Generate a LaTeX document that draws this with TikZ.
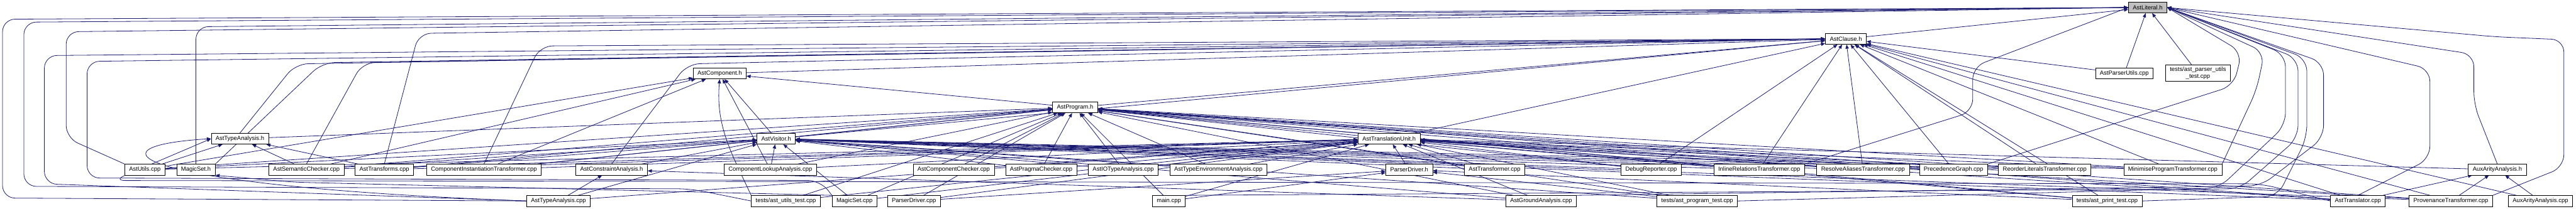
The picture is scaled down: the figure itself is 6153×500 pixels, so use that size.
\documentclass[tikz,border=0pt]{standalone}
\usepackage{fontspec}
\setmainfont{Liberation Sans}
\usetikzlibrary{arrows.meta,backgrounds}
\definecolor{incblue}{RGB}{25,25,112}
\newcommand\incfont{\fontsize{14.2pt}{17pt}\selectfont}
\tikzset{
  incbox/.style={draw, line width=1pt, fill=white, font=\incfont, inner xsep=10.5pt,
    inner ysep=2pt, minimum height=26pt, align=center},
  incroot/.style={incbox, fill=black!25},
  incedge/.style={draw=incblue, line width=1.2pt, -{Triangle[length=10pt,width=8pt]}},
  incroute/.style={incedge, rounded corners=30pt},
}

\begin{document}
\begin{tikzpicture}[x=1pt,y=-1pt]
  \useasboundingbox (0,0) rectangle (6153,500);
  % top headers
  \node[incroot] (lit) at (5130,18) {AstLiteral.h};
  \node[incbox] (clause) at (4409,93) {AstClause.h};
  \node[incbox] (comp) at (1719,176) {AstComponent.h};
  \node[incbox] (parseru) at (5074,176) {AstParserUtils.cpp};
  \node[incbox, minimum height=40pt] (tpu) at (5250,175) {tests/ast\_parser\_utils\\\_test.cpp};
  \node[incbox] (prog) at (2568,257) {AstProgram.h};
  \node[incbox] (tah) at (573,332) {AstTypeAnalysis.h};
  \node[incbox] (visit) at (1854,332) {AstVisitor.h};
  \node[incbox] (tu) at (3318,332) {AstTranslationUnit.h};
  % row of includers
  \node[incbox] (utils) at (346,406) {AstUtils.cpp};
  \node[incbox] (msh) at (468,406) {MagicSet.h};
  \node[incbox] (sem) at (732,406) {AstSemanticChecker.cpp};
  \node[incbox] (transf) at (918,406) {AstTransforms.cpp};
  \node[incbox] (cit) at (1156,406) {ComponentInstantiationTransformer.cpp};
  \node[incbox] (cah) at (1461,406) {AstConstraintAnalysis.h};
  \node[incbox] (cla) at (1840,406) {ComponentLookupAnalysis.cpp};
  \node[incbox] (cchk) at (2278,406) {AstComponentChecker.cpp};
  \node[incbox] (pchk) at (2487,406) {AstPragmaChecker.cpp};
  \node[incbox] (iota) at (2683,406) {AstIOTypeAnalysis.cpp};
  \node[incbox] (tea) at (2910,406) {AstTypeEnvironmentAnalysis.cpp};
  \node[incbox] (pdh) at (3366,406) {ParserDriver.h};
  \node[incbox] (astt) at (3570,406) {AstTransformer.cpp};
  \node[incbox] (dbg) at (3944,406) {DebugReporter.cpp};
  \node[incbox] (inl) at (4202,406) {InlineRelationsTransformer.cpp};
  \node[incbox] (res) at (4450,406) {ResolveAliasesTransformer.cpp};
  \node[incbox] (pg) at (4666,406) {PrecedenceGraph.cpp};
  \node[incbox] (rlt) at (4884,406) {ReorderLiteralsTransformer.cpp};
  \node[incbox] (mpt) at (5190,406) {MinimiseProgramTransformer.cpp};
  \node[incbox] (auxh) at (5965,406) {AuxArityAnalysis.h};
  % bottom row
  \node[incbox] (tacpp) at (1334,481) {AstTypeAnalysis.cpp};
  \node[incbox] (tutil) at (1877,481) {tests/ast\_utils\_test.cpp};
  \node[incbox] (mscpp) at (2041,481) {MagicSet.cpp};
  \node[incbox] (pdcpp) at (2183,481) {ParserDriver.cpp};
  \node[incbox] (main) at (2792,481) {main.cpp};
  \node[incbox] (ground) at (3681,481) {AstGroundAnalysis.cpp};
  \node[incbox] (tprog) at (4054,481) {tests/ast\_program\_test.cpp};
  \node[incbox] (tprint) at (5033,481) {tests/ast\_print\_test.cpp};
  \node[incbox] (transl) at (5632,481) {AstTranslator.cpp};
  \node[incbox] (prov) at (5854,481) {ProvenanceTransformer.cpp};
  \node[incbox] (auxcpp) at (6068,481) {AuxArityAnalysis.cpp};

  \begin{scope}[on background layer]
    % into AstLiteral.h
    \draw[incedge] (clause) -- (lit);
    \draw[incedge] (parseru) -- (lit);
    \draw[incedge] (tpu) -- (lit);
    \draw[incroute] (tacpp.west) -- (6,474) -- (6,46) -- (lit.west);
    \draw[incroute] (tutil.west) -- (1650,452) -- (57,446) -- (57,53) -- (lit.west);
    \draw[incroute] (utils.north west) -- (158,330) -- (158,76) -- (lit.west);
    \draw[incroute] (msh.north) -- (468,64) -- (lit.west);
    \draw[incroute] (transf.north) -- (1000,80) -- (lit.west);
    \draw[incroute] (inl.north east) -- (4712,267) -- (4712,160) -- (lit.west);
    \draw[incroute] (transl.north) -- (5804,380) -- (5804,165) -- (lit.east);
    \draw[incroute] (auxh.north) -- (5909,250) -- (5909,130) -- (lit.east);
    \draw[incroute] (prov.north east) -- (6124,400) -- (6124,95) -- (5960,88) -- (lit.east);
    \draw[incroute] (pg.north east) -- (5335,205) -- (5355,125) -- (lit.east);
    \draw[incroute] (mpt.north east) -- (5390,215) -- (5409,125) -- (lit.east);
    \draw[incroute] (tprog.east) -- (5300,450) -- (5459,300) -- (5459,130) -- (lit.east);
    \draw[incroute] (main.north east) -- (5350,452) -- (5489,330) -- (5489,140) -- (lit.east);
    \draw[incroute] (tprint.east) -- (5440,470) -- (5510,330) -- (5510,140) -- (lit.east);
    \draw[incroute] (ground.north east) -- (5400,445) -- (5550,330) -- (5550,150) -- (lit.east);
    % into AstClause.h
    \foreach \s in {comp,prog,visit,tu,res,pg,rlt,mpt,inl,dbg,parseru,transl,prov,auxcpp,tprint}
      \draw[incedge] (\s) -- (clause);
    \draw[incroute] (tah.north) -- (706,153) -- (clause.west);
    \draw[incroute] (msh.north east) -- (770,150) -- (clause.west);
    \draw[incroute] (sem.north) -- (866,150) -- (clause.west);
    \draw[incroute] (cit.north) -- (1290,110) -- (clause.west);
    \draw[incroute] (cah.north) -- (1642,153) -- (clause.west);
    \draw[incroute] (tacpp.west) -- (106,440) -- (106,133) -- (clause.west);
    \draw[incroute] (mscpp.north west) -- (1960,432) -- (208,426) -- (208,147) -- (clause.west);
    % into AstComponent.h
    \foreach \s in {prog,visit,cla,cit,sem,utils}
      \draw[incedge] (\s) -- (comp);
    \draw[incedge] (tutil.north west) to[out=115,in=-95] (comp.south);
    % into AstProgram.h
    \foreach \s in {visit,tah,utils,sem,transf,cit,cla,cchk,pchk,iota,tea,tutil,mscpp,pdcpp,main,
        tu,astt,dbg,inl,res,pg,rlt,mpt,ground,tprog,tprint,transl,prov}
      \draw[incedge] (\s) -- (prog);
    % into AstVisitor.h
    \foreach \s in {utils,sem,transf,cit,cah,tacpp,cla,pchk,iota,tea,mscpp,astt,dbg,inl,res,pg,
        rlt,mpt,transl,ground,tprog,prov}
      \draw[incedge] (\s) -- (visit);
    % into AstTranslationUnit.h
    \foreach \s in {utils,sem,transf,cit,cla,cchk,pchk,iota,tea,tacpp,tutil,mscpp,pdcpp,main,pdh,
        astt,dbg,inl,res,pg,rlt,mpt,ground,tprog,tprint,transl,prov,auxh}
      \draw[incedge] (\s) -- (tu);
    % into AstTypeAnalysis.h
    \foreach \s in {utils,sem,transf}
      \draw[incedge] (\s) -- (tah);
    \draw[incedge] (tacpp.west) .. controls (300,445) and (200,350) .. (tah.west);
    \draw[incroute] (transl.west) -- (5400,440) -- (270,432) -- (tah.west);
    % the smaller headers
    \draw[incroute] (mscpp.north west) -- (700,436) -- (msh.south east);
    \draw[incedge] (tacpp) -- (cah);
    \draw[incedge] (ground) -- (cah);
    \foreach \s in {pdcpp,main,tprog,tprint}
      \draw[incedge] (\s) -- (pdh);
    \foreach \s in {transl,prov,auxcpp}
      \draw[incedge] (\s) -- (auxh);
  \end{scope}
\end{tikzpicture}
\end{document}
